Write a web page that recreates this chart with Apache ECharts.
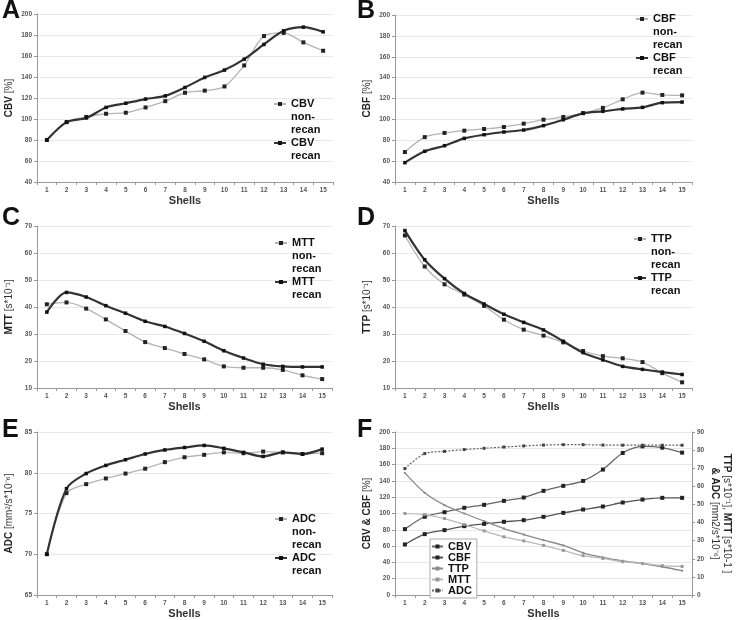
<!DOCTYPE html>
<html><head><meta charset="utf-8">
<script src="https://cdn.jsdelivr.net/npm/echarts@6/dist/echarts.min.js"></script>
<style>html,body{margin:0;padding:0;background:#fff}#c{width:739px;height:620px}</style>
</head><body><div id="c"></div>
<script>
const shells = ['1','2','3','4','5','6','7','8','9','10','11','12','13','14','15'];
const cbvNon = [80,97,102,105,106,111,117,125,127,131,151,179,182,173,165];
const cbvRec = [80,97,101,111,115,119,122,130,139.6,146.6,157,171,184,187.5,183];
const cbfNon = [68.7,83,87,89.2,90.8,92.7,95.9,99.7,102.3,106,111,119.2,125.6,123.4,123];
const cbfRec = [58.5,69.4,74.8,81.8,85.3,87.9,89.8,94,99.7,105.8,107.7,110,111.5,116,116.6];
const mttNon = [41,41.7,39.4,35.4,31.1,27,24.8,22.6,20.6,18,17.5,17.5,16.7,14.7,13.3];
const mttRec = [38.1,45.4,43.7,40.5,37.7,34.7,32.8,30.2,27.3,23.8,21.1,18.8,18,17.8,17.8];
const ttpNon = [66.5,55,48.4,44.6,40.4,35.3,31.6,29.4,26.9,23.7,21.8,21,19.6,15.5,12.1];
const ttpRec = [68.3,57.5,50.5,45,41.1,37.3,34.3,31.5,27.3,23.1,20.4,18,16.9,15.9,15];
const adcNon = [70,77.5,78.6,79.3,79.9,80.5,81.3,81.9,82.2,82.5,82.4,82.6,82.5,82.3,82.4];
const adcRec = [70,78.05,79.9,80.9,81.6,82.3,82.8,83.1,83.35,83,82.5,82,82.5,82.3,82.9];
const cbvAll = [80.8,96,101.6,107,110.6,115.5,119.6,127.8,133.9,140,153.9,174.3,182.4,180.8,174.7];
const cbfAll = [62,74.7,79.6,84.5,87.3,89.8,91.8,95.9,100.8,104.9,108.6,113.5,117.1,119.2,119.2];
const ttpAll = [67.4,56.4,49.6,45,40.8,36.7,33.4,30.3,27.4,23.3,20.8,18.9,17.4,15.6,13.4];
const mttAll = [45,44.4,42.2,38.9,35.4,32.1,29.9,27.4,24.6,21.7,20.2,18.4,17.4,16.2,15.8];
const adcAll = [69.8,78.1,79.3,80.3,81,81.7,82.3,82.8,83,83,82.8,82.7,82.7,82.7,82.7];

const FONT = 'Liberation Sans';
const grids = [
  {left:37, top:14, width:296, height:168},
  {left:395, top:15, width:297, height:167},
  {left:37, top:226, width:295, height:162},
  {left:395, top:226, width:297, height:162},
  {left:37, top:432, width:295, height:165},
  {left:395, top:432, width:297, height:163}
];
const yRanges = [[40,200,20],[40,200,20],[10,70,10],[10,70,10],[65,85,5],[0,200,20]];
const yNames = [
  '{b|CBV} [%]', '{b|CBF} [%]', '{b|MTT} [s*10⁻¹]', '{b|TTP} [s*10⁻¹]', '{b|ADC} [mm²/s*10⁻⁶]', '{b|CBV & CBF} [%]'
];
const axisLabel = {fontSize:6.5, fontWeight:'bold', color:'#555', fontFamily:FONT, margin:5};
const nameRich = {b:{fontWeight:'bold', fontSize:10, fontFamily:FONT, color:'#222'}};

const xAxis = grids.map((g,i)=>({
  type:'category', gridIndex:i, data:shells, boundaryGap:true,
  axisLine:{lineStyle:{color:'#999', width:1}},
  axisTick:{show:true, length:3, lineStyle:{color:'#999'}},
  axisLabel:Object.assign({}, axisLabel, {margin:5}),
  name:'Shells', nameLocation:'middle', nameGap:13,
  nameTextStyle:{fontWeight:'bold', fontSize:11, color:'#333', fontFamily:FONT}
}));
const yAxis = grids.map((g,i)=>({
  type:'value', gridIndex:i, min:yRanges[i][0], max:yRanges[i][1], interval:yRanges[i][2],
  axisLine:{show:true, lineStyle:{color:'#999', width:1}},
  axisTick:{show:true, length:3, lineStyle:{color:'#999'}},
  splitLine:{lineStyle:{color:'#e8e8e8', width:1}},
  axisLabel:axisLabel,
  name:yNames[i], nameLocation:'middle', nameGap:23,
  nameTextStyle:{fontSize:10, color:'#333', fontFamily:FONT, rich:nameRich}
}));
yAxis.push({
  type:'value', gridIndex:5, position:'right', min:0, max:90, interval:10,
  axisLine:{show:true, lineStyle:{color:'#999', width:1}},
  axisTick:{show:true, length:3, lineStyle:{color:'#999'}},
  splitLine:{show:false},
  axisLabel:axisLabel,
  name:'{b|TTP} [s*10⁻¹], {b|MTT} [s*10-1 ]\n{b|& ADC} [mm2/s*10⁻⁶]', nameLocation:'middle', nameGap:17, nameRotate:-90,
  nameTextStyle:{fontSize:10, color:'#333', fontFamily:FONT, lineHeight:12, rich:{b:{fontWeight:'bold', fontSize:10, fontFamily:FONT, color:'#222', lineHeight:12}}}
});

function nonSeries(name, data, i){
  return {name, type:'line', xAxisIndex:i, yAxisIndex:i, data, smooth:0.3,
    symbol:'rect', symbolSize:4, showSymbol:true,
    lineStyle:{color:'#b4b4b4', width:1.3}, itemStyle:{color:'#222'}, z:2};
}
function recSeries(name, data, i){
  return {name, type:'line', xAxisIndex:i, yAxisIndex:i, data, smooth:0.3,
    symbol:'rect', symbolSize:3.5, showSymbol:true,
    lineStyle:{color:'#333', width:2.2}, itemStyle:{color:'#111'}, z:3};
}
const series = [
  nonSeries('CBV non-recan', cbvNon, 0), recSeries('CBV recan', cbvRec, 0),
  nonSeries('CBF non-recan', cbfNon, 1), recSeries('CBF recan', cbfRec, 1),
  nonSeries('MTT non-recan', mttNon, 2), recSeries('MTT recan', mttRec, 2),
  nonSeries('TTP non-recan', ttpNon, 3), recSeries('TTP recan', ttpRec, 3),
  nonSeries('ADC non-recan', adcNon, 4), recSeries('ADC recan', adcRec, 4),
  {name:'CBV', type:'line', xAxisIndex:5, yAxisIndex:5, data:cbvAll, smooth:0.3, symbol:'rect', symbolSize:4,
    lineStyle:{color:'#666', width:1.3}, itemStyle:{color:'#222'}},
  {name:'CBF', type:'line', xAxisIndex:5, yAxisIndex:5, data:cbfAll, smooth:0.3, symbol:'rect', symbolSize:4,
    lineStyle:{color:'#555', width:1.3}, itemStyle:{color:'#222'}},
  {name:'TTP', type:'line', xAxisIndex:5, yAxisIndex:6, data:ttpAll, smooth:0.3, symbol:'rect', symbolSize:2,
    lineStyle:{color:'#8a8a8a', width:1.3}, itemStyle:{color:'#8a8a8a'}},
  {name:'MTT', type:'line', xAxisIndex:5, yAxisIndex:6, data:mttAll, smooth:0.3, symbol:'rect', symbolSize:3,
    lineStyle:{color:'#b8b8b8', width:1.2}, itemStyle:{color:'#999'}},
  {name:'ADC', type:'line', xAxisIndex:5, yAxisIndex:6, data:adcAll, smooth:0.3, symbol:'rect', symbolSize:3,
    lineStyle:{color:'#666', width:1.2, type:[2,1.5]}, itemStyle:{color:'#444'}}
];

const legendText = {
  'CBV non-recan':'\n\nCBV\nnon-\nrecan', 'CBV recan':'\nCBV\nrecan',
  'CBF non-recan':'\n\nCBF\nnon-\nrecan', 'CBF recan':'\nCBF\nrecan',
  'MTT non-recan':'\n\nMTT\nnon-\nrecan', 'MTT recan':'\nMTT\nrecan',
  'TTP non-recan':'\n\nTTP\nnon-\nrecan', 'TTP recan':'\nTTP\nrecan',
  'ADC non-recan':'\n\nADC\nnon-\nrecan', 'ADC recan':'\nADC\nrecan'
};
const LH = 13;
function mkLeg(name, left, firstLineY){
  const nLines = legendText[name].split('\n').length;
  const top = firstLineY - (nLines*LH)/2;
  return {data:[name], left:left, top:top, orient:'vertical', padding:0, itemWidth:12, itemHeight:5,
    selectedMode:false, formatter:n=>legendText[n],
    textStyle:{fontFamily:FONT, fontWeight:'bold', fontSize:11, lineHeight:LH, color:'#111'}};
}
const legends = [
  mkLeg('CBV non-recan', 273, 104), mkLeg('CBV recan', 273, 143),
  mkLeg('CBF non-recan', 635, 19), mkLeg('CBF recan', 635, 58),
  mkLeg('MTT non-recan', 274, 243), mkLeg('MTT recan', 274, 282),
  mkLeg('TTP non-recan', 633, 239), mkLeg('TTP recan', 633, 278),
  mkLeg('ADC non-recan', 274, 519), mkLeg('ADC recan', 274, 558),
  {data:['CBV','CBF','TTP','MTT','ADC'], left:430, top:539, orient:'vertical', padding:[2,5,2,1], itemGap:0,
    itemWidth:11, itemHeight:5, selectedMode:false, borderColor:'#aaa', borderWidth:1, backgroundColor:'#fff',
    textStyle:{fontFamily:FONT, fontWeight:'bold', fontSize:11, lineHeight:10.5, color:'#111'}}
];

const letters = [['A',2,12],['B',357,12],['C',2,219],['D',357,219],['E',2,431],['F',357,431]];
const graphic = letters.map(l=>({type:'text', left:l[1], top:l[2]-13, z:10,
  style:{text:l[0], font:'bold 25px "Liberation Sans"', fill:'#111'}}));

const chart = echarts.init(document.getElementById('c'), null, {renderer:'canvas'});
chart.setOption({
  backgroundColor:'#fff', animation:false,
  grid:grids, xAxis, yAxis, series, legend:legends, graphic
});
</script></body></html>
